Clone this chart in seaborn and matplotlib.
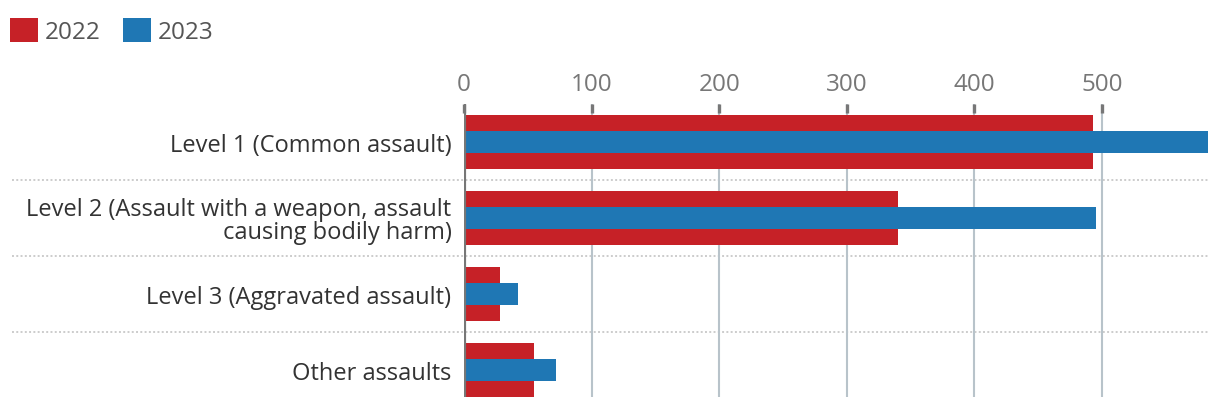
import matplotlib
matplotlib.use("Agg")
import matplotlib.pyplot as plt
import matplotlib.transforms as mtransforms
from matplotlib.patches import Patch
import seaborn as sns
import pandas as pd

categories = [
    "Level 1 (Common assault)",
    "Level 2 (Assault with a weapon, assault\ncausing bodily harm)",
    "Level 3 (Aggravated assault)",
    "Other assaults",
]
values_2022 = [493, 340, 28, 55]
values_2023 = [583, 495, 42, 72]
series_names = ["2022", "2023"]
x_ticks = [0, 100, 200, 300, 400, 500]

RED = "#c62127"
BLUE = "#1f77b4"
FONT = "Open Sans"

sns.set_theme(style="white")
plt.rcParams["font.family"] = [FONT, "DejaVu Sans"]

df22 = pd.DataFrame({"category": categories, "value": values_2022})
df23 = pd.DataFrame({"category": categories, "value": values_2023})

W, H = 1220, 410
fig = plt.figure(figsize=(W / 100, H / 100), dpi=100)
left, right = 464 / W, 1208 / W
top_px, bot_px = 105, 398
ax = fig.add_axes([left, 1 - bot_px / H, right - left, (bot_px - top_px) / H])

sns.barplot(data=df22, x="value", y="category", orient="h", color=RED,
            width=0.71, saturation=1, linewidth=0, edgecolor="none", ax=ax, zorder=2)
sns.barplot(data=df23, x="value", y="category", orient="h", color=BLUE,
            width=0.28, saturation=1, linewidth=0, edgecolor="none", ax=ax, zorder=3)

ax.set_xlim(0, 583)
ax.set_ylim(3.355, -0.5)
ax.set_xlabel("")
ax.set_ylabel("")
ax.set_axisbelow(False)

for s in ax.spines.values():
    s.set_visible(False)

# gridlines
for t in x_ticks[1:]:
    ax.axvline(t, color="#b8c3ca", lw=1.5, zorder=1)
ax.axvline(0, color="#777777", lw=3.0, zorder=5)

ax.xaxis.tick_top()
ax.set_xticks(x_ticks)
ax.tick_params(axis="x", direction="in", length=6.5, width=2.4, color="#777777",
               pad=6, labelsize=17.5, labelcolor="#777777", top=True, bottom=False)
ax.tick_params(axis="y", length=0, pad=9, labelsize=17, labelcolor="#333333")
for lab in ax.get_yticklabels():
    lab.set_horizontalalignment("right")
    lab.set_multialignment("right")
    lab.set_linespacing(0.95)

# dotted separators across label area
trans = mtransforms.blended_transform_factory(fig.transFigure, ax.transData)
for yv in [0.5, 1.5, 2.5]:
    ax.plot([12 / W, right], [yv, yv], transform=trans, clip_on=False,
            color="#cccccc", lw=1.4, linestyle=(0, (1.0, 1.2)), zorder=0)

handles = [Patch(facecolor=RED, edgecolor="none"), Patch(facecolor=BLUE, edgecolor="none")]
fig.legend(handles, series_names, loc="upper left", bbox_to_anchor=(10 / W, 1 - 19 / H),
           ncol=2, frameon=False, fontsize=17.5, labelcolor="#555555",
           handlelength=1.15, handleheight=1.15, handletextpad=0.3,
           columnspacing=0.9, borderpad=0, borderaxespad=0)

fig.savefig("out.png", dpi=100)
